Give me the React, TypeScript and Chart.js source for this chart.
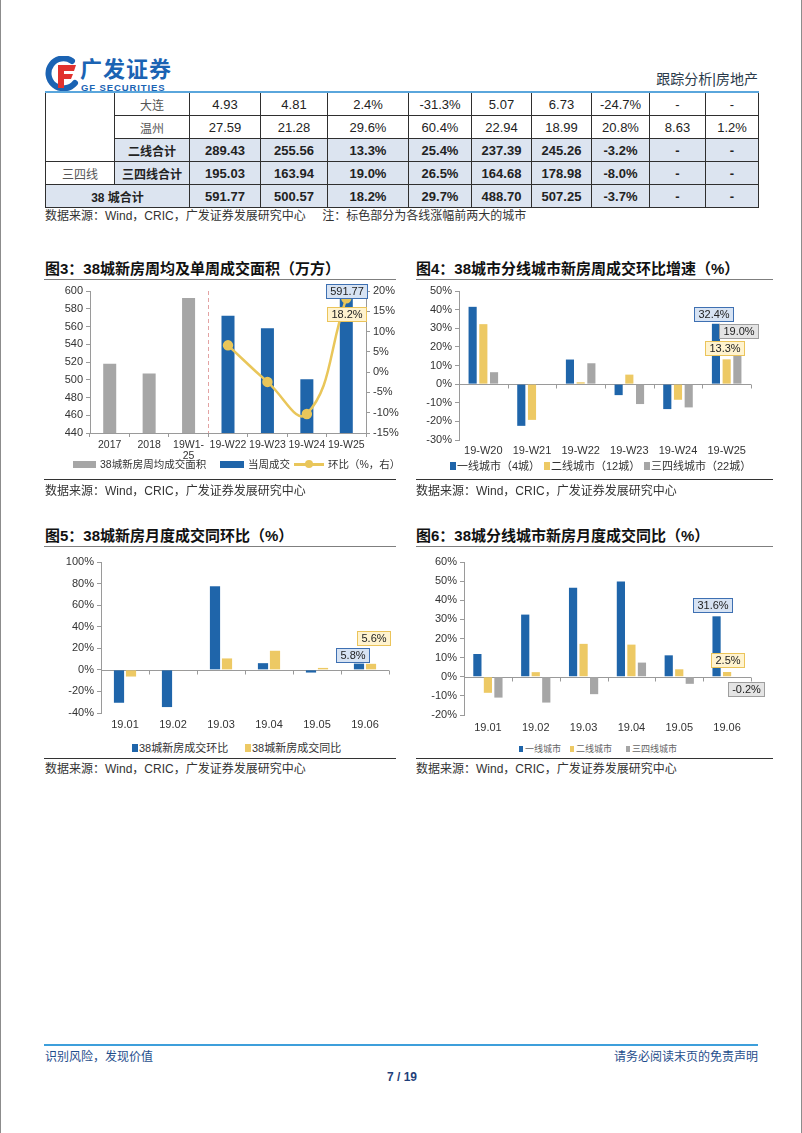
import React, { useEffect, useRef } from "react";
import { Chart, registerables } from "chart.js";

Chart.register(...registerables);

// ---------------- data ----------------
const tableColWidths = [69, 75, 71, 67, 81, 63, 60, 60, 58, 56, 53];
const rowDalian = ["4.93", "4.81", "2.4%", "-31.3%", "5.07", "6.73", "-24.7%", "-", "-"];
const rowWenzhou = ["27.59", "21.28", "29.6%", "60.4%", "22.94", "18.99", "20.8%", "8.63", "1.2%"];
const rowTier2Sum = ["289.43", "255.56", "13.3%", "25.4%", "237.39", "245.26", "-3.2%", "-", "-"];
const rowTier34Sum = ["195.03", "163.94", "19.0%", "26.5%", "164.68", "178.98", "-8.0%", "-", "-"];
const rowTotal = ["591.77", "500.57", "18.2%", "29.7%", "488.70", "507.25", "-3.7%", "-", "-"];

const fig3Labels = ["2017", "2018", ["19W1-", "25"], "19-W22", "19-W23", "19-W24", "19-W25"];
const fig3Average = [518, 507, 592, null, null, null, null];
const fig3Weekly = [null, null, null, 572, 558, 500.57, 591.77];
const fig3Change = [null, null, null, 6.6, -2.4, -10.3, 18.2];

const fig4Labels = ["19-W20", "19-W21", "19-W22", "19-W23", "19-W24", "19-W25"];
const fig4Tier1 = [41.5, -22.4, 13.2, -5.9, -13.4, 32.4];
const fig4Tier2 = [32.2, -19.2, 1.0, 5.1, -8.4, 13.3];
const fig4Tier34 = [6.4, 0, 11.2, -10.7, -12.5, 19.0];

const fig5Labels = ["19.01", "19.02", "19.03", "19.04", "19.05", "19.06"];
const fig5Mom = [-30.5, -34.5, 77.5, 6.2, -2.5, 5.8];
const fig5Yoy = [-6.2, -0.5, 10.6, 17.7, 1.8, 5.6];

const fig6Labels = ["19.01", "19.02", "19.03", "19.04", "19.05", "19.06"];
const fig6Tier1 = [11.9, 32.5, 46.5, 49.8, 11.2, 31.6];
const fig6Tier2 = [-8.4, 2.4, 17.2, 16.8, 3.9, 2.5];
const fig6Tier34 = [-10.9, -13.5, -9.1, 7.4, -3.7, -0.2];

// ---------------- styles ----------------
const FONT = "'Liberation Sans', 'Noto Sans CJK SC', sans-serif";
const BLUE = "#1F65AA";
const GRAY = "#A6A6A6";
const YELLOW = "#EDC964";
const YELLOW_LINE = "#E9C65A";
const AXIS = "#9A9A9A";
const TICK = "#333333";
const tickFont = { family: "'Liberation Sans', Arial, sans-serif", size: 11 };

const TAG_BLUE = { fill: "#D7E3F3", stroke: "#3E70B2" };
const TAG_YELLOW = { fill: "#FFF3CF", stroke: "#EBC45A" };
const TAG_GRAY = { fill: "#E4E4E4", stroke: "#9E9E9E" };

function drawTag(ctx: any, x: number, y: number, text: string, fill: string, stroke: string) {
  ctx.save();
  ctx.font = "11px 'Liberation Sans', Arial, sans-serif";
  const w = Math.ceil(ctx.measureText(text).width) + 7;
  const h = 14;
  const l = Math.round(x - w / 2) + 0.5;
  const t = Math.round(y - h / 2) + 0.5;
  ctx.fillStyle = fill;
  ctx.fillRect(l, t, w, h);
  ctx.strokeStyle = stroke;
  ctx.lineWidth = 1;
  ctx.strokeRect(l, t, w, h);
  ctx.fillStyle = "#222";
  ctx.textAlign = "center";
  ctx.textBaseline = "middle";
  ctx.fillText(text, l + w / 2, t + h / 2 + 0.5);
  ctx.restore();
}

const decorPlugin = {
  id: "decor",
  beforeDatasetsDraw(chart: any, _args: any, opts: any) {
    const ctx = chart.ctx;
    const area = chart.chartArea;
    if (opts.zero) {
      const y0 = Math.round(chart.scales.y.getPixelForValue(0)) + 0.5;
      const n = chart.data.labels.length;
      ctx.save();
      ctx.strokeStyle = AXIS;
      ctx.lineWidth = 1;
      ctx.beginPath();
      ctx.moveTo(area.left, y0);
      ctx.lineTo(area.right, y0);
      for (let i = 0; i <= n; i++) {
        const x = Math.round(area.left + ((area.right - area.left) * i) / n) + 0.5;
        ctx.moveTo(x, y0);
        ctx.lineTo(x, y0 + 4);
      }
      ctx.stroke();
      ctx.restore();
    }
    if (opts.dashedAfter != null) {
      const xs = chart.scales.x;
      const x = Math.round((xs.getPixelForValue(opts.dashedAfter) + xs.getPixelForValue(opts.dashedAfter + 1)) / 2) + 0.5;
      ctx.save();
      ctx.strokeStyle = "#E3A3A3";
      ctx.lineWidth = 1;
      ctx.setLineDash([4, 3]);
      ctx.beginPath();
      ctx.moveTo(x, area.top);
      ctx.lineTo(x, area.bottom);
      ctx.stroke();
      ctx.restore();
    }
  },
  afterDatasetsDraw(chart: any, _args: any, opts: any) {
    const ctx = chart.ctx;
    (opts.tags || []).forEach((t: any) => {
      const el = chart.getDatasetMeta(t.ds).data[t.i];
      if (!el) return;
      const ds = chart.data.datasets[t.ds];
      const v = ds.data[t.i];
      const text = t.fmt ? t.fmt(v) : String(v);
      drawTag(ctx, el.x + t.dx, el.y + t.dy, text, t.style.fill, t.style.stroke);
    });
  },
};

function valueAxis(min: number, max: number, step: number, width: number, pct: boolean, position = "left") {
  return {
    type: "linear",
    position,
    min,
    max,
    ticks: {
      stepSize: step,
      color: TICK,
      font: tickFont,
      padding: 3,
      callback: (v: any) => (pct ? v + "%" : String(v)),
    },
    grid: { display: true, drawOnChartArea: false, drawTicks: true, tickLength: 4, color: AXIS },
    border: { display: true, color: AXIS },
    afterFit: (s: any) => {
      s.width = width;
    },
  };
}

function zeroCatAxis(height: number, padding: number) {
  return {
    type: "category",
    grid: { display: false, drawTicks: false },
    border: { display: false },
    ticks: { color: TICK, font: tickFont, padding, maxRotation: 0, autoSkip: false },
    afterFit: (s: any) => {
      s.height = height;
    },
  };
}

const pct1 = (v: number) => v.toFixed(1) + "%";

function fig3Config() {
  return {
    type: "bar",
    data: {
      labels: fig3Labels,
      datasets: [
        {
          type: "line",
          label: "环比（%，右）",
          data: fig3Change,
          yAxisID: "y1",
          borderColor: YELLOW_LINE,
          backgroundColor: YELLOW_LINE,
          borderWidth: 2.5,
          pointRadius: 4,
          pointHoverRadius: 4,
          tension: 0.45,
          order: 0,
        },
        {
          label: "38城新房周均成交面积",
          data: fig3Average,
          backgroundColor: GRAY,
          yAxisID: "y",
          order: 1,
          skipNull: true,
          barPercentage: 0.33,
          categoryPercentage: 1,
        },
        {
          label: "当周成交",
          data: fig3Weekly,
          backgroundColor: BLUE,
          yAxisID: "y",
          order: 1,
          skipNull: true,
          barPercentage: 0.33,
          categoryPercentage: 1,
        },
      ],
    },
    options: {
      responsive: false,
      animation: false,
      layout: { padding: { top: 10, left: 0, right: 0, bottom: 0 } },
      plugins: {
        legend: { display: false },
        tooltip: { enabled: false },
        decor: {
          dashedAfter: 2,
          tags: [
            { ds: 2, i: 6, dx: 0, dy: -7, style: TAG_BLUE, fmt: (v: number) => v.toFixed(2) },
            { ds: 0, i: 6, dx: 0, dy: 16, style: TAG_YELLOW, fmt: pct1 },
          ],
        },
      },
      scales: {
        x: {
          type: "category",
          grid: { display: true, drawOnChartArea: false, drawTicks: true, tickLength: 4, color: AXIS, offset: true },
          border: { display: true, color: AXIS },
          ticks: { color: TICK, font: { ...tickFont, size: 10.5, lineHeight: 1.0 }, padding: 3, maxRotation: 0, autoSkip: false },
          afterFit: (s: any) => {
            s.height = 28;
          },
        },
        y: valueAxis(440, 600, 20, 46, false, "left"),
        y1: valueAxis(-15, 20, 5, 35, true, "right"),
      },
    },
    plugins: [decorPlugin],
  };
}

function fig4Config() {
  const common = { categoryPercentage: 0.66, barPercentage: 0.76 };
  return {
    type: "bar",
    data: {
      labels: fig4Labels,
      datasets: [
        { label: "一线城市（4城）", data: fig4Tier1, backgroundColor: BLUE, ...common },
        { label: "二线城市（12城）", data: fig4Tier2, backgroundColor: YELLOW, ...common },
        { label: "三四线城市（22城）", data: fig4Tier34, backgroundColor: GRAY, ...common },
      ],
    },
    options: {
      responsive: false,
      animation: false,
      layout: { padding: { top: 10, right: 25, left: 0, bottom: 0 } },
      plugins: {
        legend: { display: false },
        tooltip: { enabled: false },
        decor: {
          zero: true,
          tags: [
            { ds: 0, i: 5, dx: -2, dy: -10, style: TAG_BLUE, fmt: pct1 },
            { ds: 2, i: 5, dx: 1, dy: -18, style: TAG_GRAY, fmt: pct1 },
            { ds: 1, i: 5, dx: -2, dy: -11, style: TAG_YELLOW, fmt: pct1 },
          ],
        },
      },
      scales: {
        x: zeroCatAxis(21, 4),
        y: valueAxis(-30, 50, 10, 45, true),
      },
    },
    plugins: [decorPlugin],
  };
}

function fig5Config() {
  const common = { categoryPercentage: 0.5, barPercentage: 0.85 };
  return {
    type: "bar",
    data: {
      labels: fig5Labels,
      datasets: [
        { label: "38城新房成交环比", data: fig5Mom, backgroundColor: BLUE, ...common },
        { label: "38城新房成交同比", data: fig5Yoy, backgroundColor: YELLOW, ...common },
      ],
    },
    options: {
      responsive: false,
      animation: false,
      layout: { padding: { top: 11, right: 12, left: 0, bottom: 0 } },
      plugins: {
        legend: { display: false },
        tooltip: { enabled: false },
        decor: {
          zero: true,
          tags: [
            { ds: 0, i: 5, dx: -7, dy: -9, style: TAG_BLUE, fmt: pct1 },
            { ds: 1, i: 5, dx: 2, dy: -26, style: TAG_YELLOW, fmt: pct1 },
          ],
        },
      },
      scales: {
        x: zeroCatAxis(23, 5),
        y: valueAxis(-40, 100, 20, 57, true),
      },
    },
    plugins: [decorPlugin],
  };
}

function fig6Config() {
  const common = { categoryPercentage: 0.66, barPercentage: 0.78 };
  return {
    type: "bar",
    data: {
      labels: fig6Labels,
      datasets: [
        { label: "一线城市", data: fig6Tier1, backgroundColor: BLUE, ...common },
        { label: "二线城市", data: fig6Tier2, backgroundColor: YELLOW, ...common },
        { label: "三四线城市", data: fig6Tier34, backgroundColor: GRAY, ...common },
      ],
    },
    options: {
      responsive: false,
      animation: false,
      layout: { padding: { top: 11, right: 25, left: 0, bottom: 0 } },
      plugins: {
        legend: { display: false },
        tooltip: { enabled: false },
        decor: {
          zero: true,
          tags: [
            { ds: 0, i: 5, dx: -4, dy: -11, style: TAG_BLUE, fmt: pct1 },
            { ds: 1, i: 5, dx: 0, dy: -12, style: TAG_YELLOW, fmt: pct1 },
            { ds: 2, i: 5, dx: 8, dy: 12, style: TAG_GRAY, fmt: pct1 },
          ],
        },
      },
      scales: {
        x: zeroCatAxis(21, 6),
        y: valueAxis(-20, 60, 10, 50, true),
      },
    },
    plugins: [decorPlugin],
  };
}

// ---------------- components ----------------
function ChartCanvas({ x, y, w, h, make }: { x: number; y: number; w: number; h: number; make: () => any }) {
  const ref = useRef<HTMLCanvasElement | null>(null);
  useEffect(() => {
    const chart = new Chart(ref.current as HTMLCanvasElement, make());
    return () => chart.destroy();
  }, []);
  return (
    <canvas
      ref={ref}
      width={w}
      height={h}
      style={{ position: "absolute", left: x, top: y, width: w, height: h }}
    />
  );
}

type TxtProps = {
  x: number;
  cy: number;
  size?: number;
  bold?: boolean;
  color?: string;
  align?: "left" | "center" | "right";
  spacing?: number;
  children: React.ReactNode;
};

function Txt({ x, cy, size = 12, bold = false, color = "#222", align = "left", spacing, children }: TxtProps) {
  const lh = Math.round(size * 1.4);
  const tx = align === "left" ? "none" : align === "center" ? "translateX(-50%)" : "translateX(-100%)";
  return (
    <div
      style={{
        position: "absolute",
        left: x,
        top: cy - lh / 2,
        height: lh,
        lineHeight: lh + "px",
        fontSize: size,
        fontWeight: bold ? 700 : 400,
        color,
        fontFamily: FONT,
        whiteSpace: "nowrap",
        transform: tx,
        letterSpacing: spacing,
      }}
    >
      {children}
    </div>
  );
}

function Rect({ x, y, w, h, bg, radius }: { x: number; y: number; w: number; h: number; bg: string; radius?: number }) {
  return <div style={{ position: "absolute", left: x, top: y, width: w, height: h, background: bg, borderRadius: radius }} />;
}

const SHADE = "#DCE4F0";

function DataTable() {
  const cell = (content: React.ReactNode, opts: any = {}) => {
    const { bold, shade, cjk, top, colSpan, rowSpan, key } = opts;
    return (
      <td
        key={key}
        colSpan={colSpan}
        rowSpan={rowSpan}
        style={{
          border: "1px solid #2f2f2f",
          borderTop: top ? "2px solid #5AA6DC" : "1px solid #2f2f2f",
          background: shade ? SHADE : "#fff",
          textAlign: "center",
          padding: 0,
          height: 22,
          fontSize: cjk ? 12 : 13,
          fontWeight: bold ? 700 : 400,
          color: cjk && !bold ? "#555" : "#222",
          fontFamily: FONT,
          whiteSpace: "nowrap",
        }}
      >
        {content}
      </td>
    );
  };
  const nums = (arr: string[], bold: boolean, shade: boolean, top = false) =>
    arr.map((v, i) => cell(v, { bold, shade, top, key: i }));
  return (
    <table
      style={{
        position: "absolute",
        left: 44,
        top: 91,
        width: 713,
        borderCollapse: "collapse",
        tableLayout: "fixed",
      }}
    >
      <colgroup>
        {tableColWidths.map((w, i) => (
          <col key={i} style={{ width: w }} />
        ))}
      </colgroup>
      <tbody>
        <tr>
          {cell("", { rowSpan: 3, top: true, key: "m" })}
          {cell("大连", { cjk: true, top: true, key: "n" })}
          {nums(rowDalian, false, false, true)}
        </tr>
        <tr>
          {cell("温州", { cjk: true, key: "n" })}
          {nums(rowWenzhou, false, false)}
        </tr>
        <tr>
          {cell("二线合计", { cjk: true, bold: true, shade: true, key: "n" })}
          {nums(rowTier2Sum, true, true)}
        </tr>
        <tr>
          {cell("三四线", { cjk: true, key: "m" })}
          {cell("三四线合计", { cjk: true, bold: true, shade: true, key: "n" })}
          {nums(rowTier34Sum, true, true)}
        </tr>
        <tr>
          {cell("38 城合计", { cjk: true, bold: true, shade: true, colSpan: 2, key: "n" })}
          {nums(rowTotal, true, true)}
        </tr>
      </tbody>
    </table>
  );
}

function Logo() {
  return (
    <svg width={34} height={36} viewBox="0 0 34 36" style={{ position: "absolute", left: 44, top: 56 }}>
      <path d="M27 5 A15 15 0 1 0 30 27" stroke="#1B63B3" strokeWidth={6} fill="none" strokeLinecap="round" />
      <path d="M13 9 H31 L29 15 H19 V18 H28 L26 23 H19 V32 H13 Z" fill="#E1322E" />
    </svg>
  );
}

const SRC = "数据来源：Wind，CRIC，广发证券发展研究中心";

export default function App() {
  return (
    <div
      style={{
        position: "absolute",
        left: 0,
        top: 0,
        width: 802,
        height: 1133,
        background: "#fff",
        boxSizing: "border-box",
        borderLeft: "1px solid #8c8c8c",
        borderRight: "1px solid #8c8c8c",
        overflow: "hidden",
        fontFamily: FONT,
      }}
    >
      {/* header */}
      <Logo />
      <Txt x={79} cy={69} size={22} bold color="#1B63B3" spacing={1}>广发证券</Txt>
      <Txt x={80} cy={87} size={9.5} bold color="#1B63B3" spacing={0.9}>GF SECURITIES</Txt>
      <Txt x={757} cy={79} size={14} color="#2a3a4a" align="right">跟踪分析|房地产</Txt>

      {/* table */}
      <DataTable />
      <Txt x={44} cy={216} size={12} color="#333">
        {SRC}&nbsp;&nbsp;&nbsp;&nbsp;&nbsp;注：标色部分为各线涨幅前两大的城市
      </Txt>

      {/* figure 3 */}
      <Txt x={44} cy={268} size={15} bold color="#111">图3：38城新房周均及单周成交面积（万方）</Txt>
      <Rect x={43} y={279} w={352} h={1} bg="#7f7f7f" />
      <ChartCanvas x={43} y={281} w={357} h={180} make={fig3Config} />
      <Rect x={72} y={461} w={23} h={7} bg={GRAY} />
      <Txt x={99} cy={464} size={10.5} color="#333">38城新房周均成交面积</Txt>
      <Rect x={219} y={461} w={24} h={7} bg={BLUE} />
      <Txt x={247} cy={464} size={10.5} color="#333">当周成交</Txt>
      <Rect x={293} y={463} w={30} h={2.5} bg={YELLOW_LINE} />
      <Rect x={304} y={460} w={8} h={8} bg={YELLOW_LINE} radius={4} />
      <Txt x={327} cy={464} size={10.5} color="#333">环比（%，右）</Txt>
      <Rect x={43} y={479} w={352} h={1} bg="#333" />
      <Txt x={44} cy={491} size={12} color="#333">{SRC}</Txt>

      {/* figure 4 */}
      <Txt x={415} cy={268} size={15} bold color="#111">图4：38城市分线城市新房周成交环比增速（%）</Txt>
      <Rect x={415} y={279} w={357} h={1} bg="#7f7f7f" />
      <ChartCanvas x={413} y={281} w={362} h={180} make={fig4Config} />
      <Rect x={449} y={462} w={6} h={8} bg={BLUE} />
      <Txt x={456} cy={466} size={11} color="#333">一线城市（4城）</Txt>
      <Rect x={543} y={462} w={6} h={8} bg={YELLOW} />
      <Txt x={550} cy={466} size={11} color="#333">二线城市（12城）</Txt>
      <Rect x={643} y={462} w={6} h={8} bg={GRAY} />
      <Txt x={650} cy={466} size={11} color="#333">三四线城市（22城）</Txt>
      <Rect x={415} y={479} w={357} h={1} bg="#333" />
      <Txt x={415} cy={491} size={12} color="#333">{SRC}</Txt>

      {/* figure 5 */}
      <Txt x={44} cy={535} size={15} bold color="#111">图5：38城新房月度成交同环比（%）</Txt>
      <Rect x={43} y={546} w={352} h={1} bg="#7f7f7f" />
      <ChartCanvas x={43} y={551} w={357} h={185} make={fig5Config} />
      <Rect x={131} y={744} w={6} h={8} bg={BLUE} />
      <Txt x={138} cy={748} size={11} color="#333">38城新房成交环比</Txt>
      <Rect x={244} y={744} w={6} h={8} bg={YELLOW} />
      <Txt x={251} cy={748} size={11} color="#333">38城新房成交同比</Txt>
      <Rect x={43} y={758} w={352} h={1} bg="#333" />
      <Txt x={44} cy={769} size={12} color="#333">{SRC}</Txt>

      {/* figure 6 */}
      <Txt x={415} cy={535} size={15} bold color="#111">图6：38城分线城市新房月度成交同比（%）</Txt>
      <Rect x={415} y={546} w={357} h={1} bg="#7f7f7f" />
      <ChartCanvas x={413} y={551} w={362} h={185} make={fig6Config} />
      <Rect x={518} y={746} w={4} h={6} bg={BLUE} />
      <Txt x={524} cy={749} size={9} color="#666">一线城市</Txt>
      <Rect x={569} y={746} w={4} h={6} bg={YELLOW} />
      <Txt x={575} cy={749} size={9} color="#666">二线城市</Txt>
      <Rect x={625} y={746} w={4} h={6} bg={GRAY} />
      <Txt x={631} cy={749} size={9} color="#666">三四线城市</Txt>
      <Rect x={415} y={758} w={357} h={1} bg="#333" />
      <Txt x={415} cy={769} size={12} color="#333">{SRC}</Txt>

      {/* footer */}
      <Rect x={43} y={1044} w={714} h={2} bg="#3D9FDB" />
      <Txt x={44} cy={1057} size={12} color="#1F4E8C">识别风险，发现价值</Txt>
      <Txt x={757} cy={1057} size={12} color="#1F4E8C" align="right">请务必阅读末页的免责声明</Txt>
      <Txt x={401} cy={1077} size={12} bold color="#1F3F7A" align="center">7 / 19</Txt>
    </div>
  );
}
